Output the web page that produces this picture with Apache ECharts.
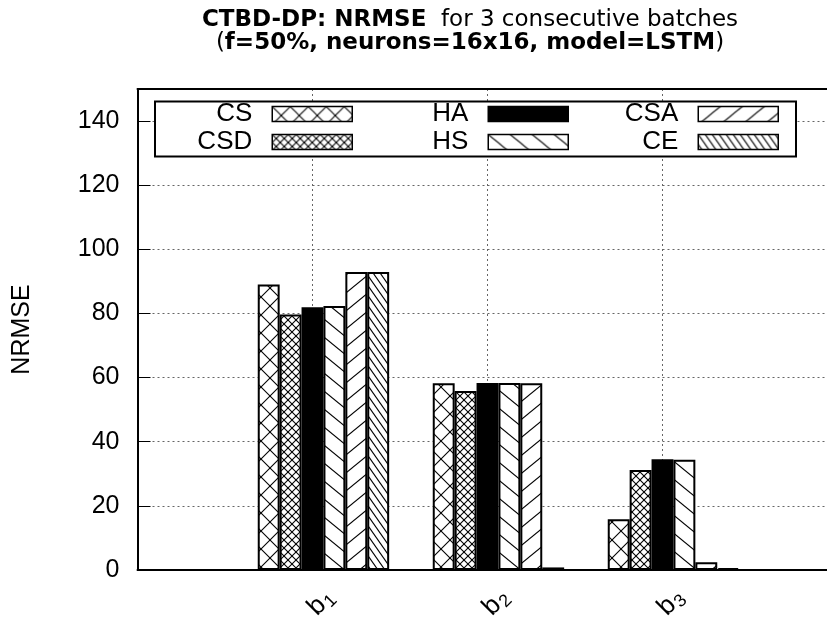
<!DOCTYPE html>
<html><head><meta charset="utf-8">
<script src="https://cdn.jsdelivr.net/npm/echarts@6/dist/echarts.min.js"></script>
<style>html,body{margin:0;padding:0;background:#fff;overflow:hidden}#c{width:827px;height:624px}</style>
</head><body><div id="c"></div>
<script>
// ---- data ----
const categories = ['b1', 'b2', 'b3'];
const seriesNames = ['CS', 'CSD', 'HA', 'HS', 'CSA', 'CE'];
const valCS  = [89.0, 58.2, 15.8];
const valCSD = [79.7, 55.8, 31.2];
const valHA  = [81.9, 58.3, 34.5];
const valHS  = [82.3, 58.3, 34.4];
const valCSA = [92.9, 58.2, 2.4];
const valCE  = [92.9, 0.8, 0.6];
const yTickLabels = [0, 20, 40, 60, 80, 100, 120, 140];
const titleLine1Bold = 'CTBD-DP: NRMSE';
const titleLine1 = '  for 3 consecutive batches';
const titleLine2Bold = 'f=50%, neurons=16x16, model=LSTM';
const yName = 'NRMSE';

const FONT = '"Liberation Sans", Arial, Helvetica, sans-serif';
const TFONT = '"DejaVu Sans", Verdana, sans-serif';
const seriesValues = [valCS, valCSD, valHA, valHS, valCSA, valCE];

// ---- hatch patterns ----
function tile(w, h, draw) {
  const c = document.createElement('canvas');
  c.width = w; c.height = h;
  const g = c.getContext('2d');
  g.fillStyle = '#fff'; g.fillRect(0, 0, w, h);
  g.strokeStyle = '#000'; g.lineWidth = 1.1;
  draw(g, w, h);
  return c;
}
function fwd(g, w, h) { for (let k = -1; k <= 1; k++) { g.beginPath(); g.moveTo(k * w - w, 2 * h); g.lineTo(k * w + 2 * w, -h); g.stroke(); } }
function back(g, w, h) { for (let k = -1; k <= 1; k++) { g.beginPath(); g.moveTo(k * w - w, -h); g.lineTo(k * w + 2 * w, 2 * h); g.stroke(); } }
const patterns = {
  CS: { image: tile(18, 18, (g, w, h) => { fwd(g, w, h); back(g, w, h); }), repeat: 'repeat' },
  CSD: { image: tile(8, 8, (g, w, h) => { fwd(g, w, h); back(g, w, h); }), repeat: 'repeat' },
  HA: '#000',
  HS: { image: tile(22, 18, back), repeat: 'repeat' },
  CSA: { image: tile(22, 18, fwd), repeat: 'repeat' },
  CE: { image: tile(7, 10, back), repeat: 'repeat' }
};
const legendPos = { CS: [353, 114], CSD: [353, 142], HA: [569, 114], HS: [569, 142], CSA: [779, 114], CE: [779, 142] };
const chart = echarts.init(document.getElementById('c'), null, { renderer: 'canvas' });
const BW = 21.9;
const dotted = { color: '#666', width: 1, type: [2, 3] };
const option = {
  animation: false,
  backgroundColor: '#fff',
  textStyle: { fontFamily: FONT },
  grid: { left: 137.5, top: 89, width: 700, height: 481, containLabel: false, outerBoundsMode: 'none' },
  graphic: [
    { type: 'rect', z: 10, shape: { x: 155, y: 101.5, width: 641, height: 55 }, style: { fill: '#fff', stroke: '#000', lineWidth: 2 } },
    { type: 'text', z: 10, x: 470, y: 9,
      style: {
        text: '{b|' + titleLine1Bold + '}{n|' + titleLine1 + '}\n{n|(}{b|' + titleLine2Bold + '}{n|)}',
        align: 'center', verticalAlign: 'top',
        rich: {
          b: { fontSize: 23, fontWeight: 'bold', fontFamily: TFONT, lineHeight: 23, fill: '#000' },
          n: { fontSize: 23, fontFamily: TFONT, lineHeight: 23, fill: '#000' }
        }
      } }
  ],
  legend: seriesNames.map(n => ({
    data: [n], right: 827 - legendPos[n][0], top: legendPos[n][1] - 13,
    align: 'right', orient: 'horizontal', itemWidth: 80, itemHeight: 15, padding: 0,
    icon: 'rect', selectedMode: false, z: 20,
    itemStyle: { borderColor: '#000', borderWidth: 1.5 },
    textStyle: { fontSize: 26, fontFamily: FONT, color: '#000', lineHeight: 26, padding: [0, 15, 0, 0] }
  })),
  xAxis: [
    { type: 'value', min: -1, max: 3, interval: 1, position: 'bottom',
      axisLine: { show: true, onZero: false, lineStyle: { color: '#000', width: 2 } },
      axisTick: { show: false },
      splitLine: { show: true, lineStyle: dotted },
      axisLabel: {
        showMinLabel: false, showMaxLabel: false,
        formatter: v => { const c = categories[v]; if (c === undefined) return ''; return '{b|' + c[0] + '}{s|' + c.slice(1) + '}'; },
        rotate: 45, align: 'center', verticalAlign: 'middle', margin: 41, padding: [0, 0, 0, 24],
        rich: {
          b: { fontSize: 26, fontFamily: FONT, color: '#000' },
          s: { fontSize: 18, fontFamily: FONT, color: '#000', padding: [12, 0, 0, 1] }
        }
      } },
    { type: 'value', min: -1, max: 3, interval: 1, position: 'top',
      axisLine: { show: true, onZero: false, lineStyle: { color: '#000', width: 2 } },
      axisTick: { show: false }, axisLabel: { show: false }, splitLine: { show: false } }
  ],
  yAxis: {
    type: 'value', min: 0, max: 150, interval: 20,
    axisLine: { show: true, onZero: false, lineStyle: { color: '#000', width: 2 } },
    axisTick: { show: true, inside: true, length: 13, lineStyle: { color: '#000', width: 1 } },
    axisLabel: { fontSize: 25, fontFamily: FONT, color: '#000', margin: 18, formatter: v => yTickLabels.includes(v) ? String(v) : '' },
    splitLine: { show: true, lineStyle: dotted },
    name: yName, nameLocation: 'middle', nameGap: 103, nameRotate: 90,
    nameTextStyle: { fontSize: 25, fontFamily: FONT, color: '#000' }
  },
  series: [ { type: 'bar', name: '_pad', data: [], barWidth: BW, barGap: '0%' } ].concat(seriesNames.map((n, i) => ({
    type: 'bar', name: n, barWidth: BW, barGap: '0%',
    data: seriesValues[i].map((v, j) => [j, v]),
    itemStyle: { color: patterns[n], borderColor: '#000', borderWidth: 2 }
  })))
};
chart.setOption(option);
</script></body></html>
